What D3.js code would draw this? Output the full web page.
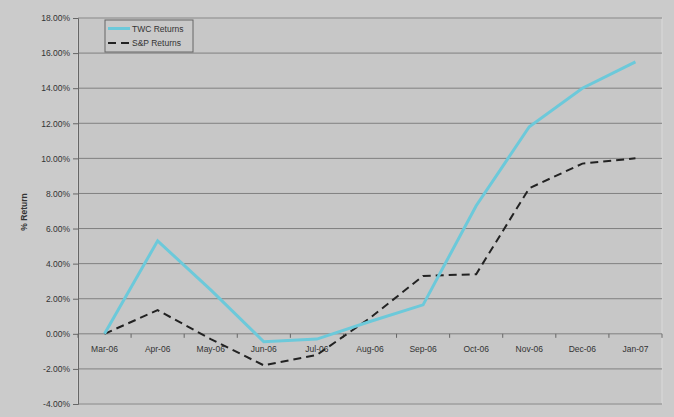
<!DOCTYPE html>
<html><head><meta charset="utf-8">
<script src="https://cdn.jsdelivr.net/npm/d3@7"></script>
<style>body{margin:0;background:#cbcbcb;} svg{display:block;}</style>
</head><body>
<script>
const categories = ["Mar-06","Apr-06","May-06","Jun-06","Jul-06","Aug-06","Sep-06","Oct-06","Nov-06","Dec-06","Jan-07"];
const twcReturns = [0.0, 5.3, 2.5, -0.45, -0.3, 0.7, 1.65, 7.3, 11.8, 14.0, 15.5];
const spReturns  = [0.0, 1.35, -0.3, -1.8, -1.2, 0.9, 3.3, 3.4, 8.3, 9.7, 10.0];
const yTicks = [-4, -2, 0, 2, 4, 6, 8, 10, 12, 14, 16, 18];
const seriesNames = ["TWC Returns", "S&P Returns"];

const W = 674, H = 417;
const m = {left: 78, right: 12, top: 18, bottom: 13};
const svg = d3.select("body").append("svg").attr("width", W).attr("height", H);
svg.append("rect").attr("width", W).attr("height", H).attr("fill", "#cbcbcb");

const x = d3.scaleBand().domain(categories).range([m.left, W - m.right]);
const y = d3.scaleLinear().domain([-4, 18]).range([H - m.bottom, m.top]);

svg.append("rect").attr("x", m.left).attr("y", m.top)
  .attr("width", W - m.right - m.left).attr("height", H - m.bottom - m.top)
  .attr("fill", "#c7c7c7").attr("stroke", "#dadada").attr("stroke-width", 1);

svg.append("g").selectAll("line").data(yTicks).join("line")
  .attr("x1", m.left).attr("x2", W - m.right)
  .attr("y1", d => y(d)).attr("y2", d => y(d))
  .attr("stroke", "#808080").attr("stroke-width", 1);

const font = "Liberation Sans, Arial, sans-serif";
const yAxis = d3.axisLeft(y).tickValues(yTicks).tickSize(5).tickFormat(d => d.toFixed(2) + "%");
const gy = svg.append("g").attr("transform", `translate(${m.left},0)`).call(yAxis);
gy.select(".domain").attr("stroke", "#666");
gy.selectAll(".tick line").attr("stroke", "#666");
gy.selectAll("text").attr("font-family", font).attr("font-size", 8.5).attr("fill", "#333");

const xAxis = d3.axisBottom(x).tickSize(0).tickPadding(12);
const gx = svg.append("g").attr("transform", `translate(0,${y(0)})`).call(xAxis);
gx.select(".domain").remove();
gx.selectAll("text").attr("font-family", font).attr("font-size", 8.5).attr("fill", "#333");
const bounds = categories.map(c => x(c)).concat([x(categories[categories.length-1]) + x.bandwidth()]);
svg.append("g").selectAll("line").data(bounds).join("line")
  .attr("x1", d => d).attr("x2", d => d)
  .attr("y1", y(0)).attr("y2", y(0) + 4)
  .attr("stroke", "#666");

svg.append("text").attr("transform", `translate(27,212) rotate(-90)`)
  .attr("text-anchor", "middle").attr("font-family", font)
  .attr("font-size", 8.5).attr("font-weight", "bold").attr("fill", "#333").text("% Return");

const line = d3.line().x((d, i) => x(categories[i]) + x.bandwidth() / 2).y(d => y(d));

svg.append("path").datum(spReturns).attr("d", line)
  .attr("fill", "none").attr("stroke", "#222").attr("stroke-width", 2)
  .attr("stroke-dasharray", "8,5");
svg.append("path").datum(twcReturns).attr("d", line)
  .attr("fill", "none").attr("stroke", "#6cc9da").attr("stroke-width", 3);

const lg = svg.append("g");
lg.append("rect").attr("x", 105).attr("y", 20).attr("width", 88).attr("height", 32)
  .attr("fill", "#c9c9c9").attr("stroke", "#666").attr("stroke-width", 1);
lg.append("line").attr("x1", 108).attr("x2", 130).attr("y1", 28.5).attr("y2", 28.5)
  .attr("stroke", "#6cc9da").attr("stroke-width", 3);
lg.append("line").attr("x1", 108).attr("x2", 130).attr("y1", 43).attr("y2", 43)
  .attr("stroke", "#222").attr("stroke-width", 2).attr("stroke-dasharray", "8,5");
lg.selectAll("text").data(seriesNames).join("text")
  .attr("x", 132).attr("y", (d, i) => 31.5 + i * 14.5)
  .attr("font-family", font).attr("font-size", 8.5).attr("fill", "#333")
  .text(d => d);
</script>
</body></html>
